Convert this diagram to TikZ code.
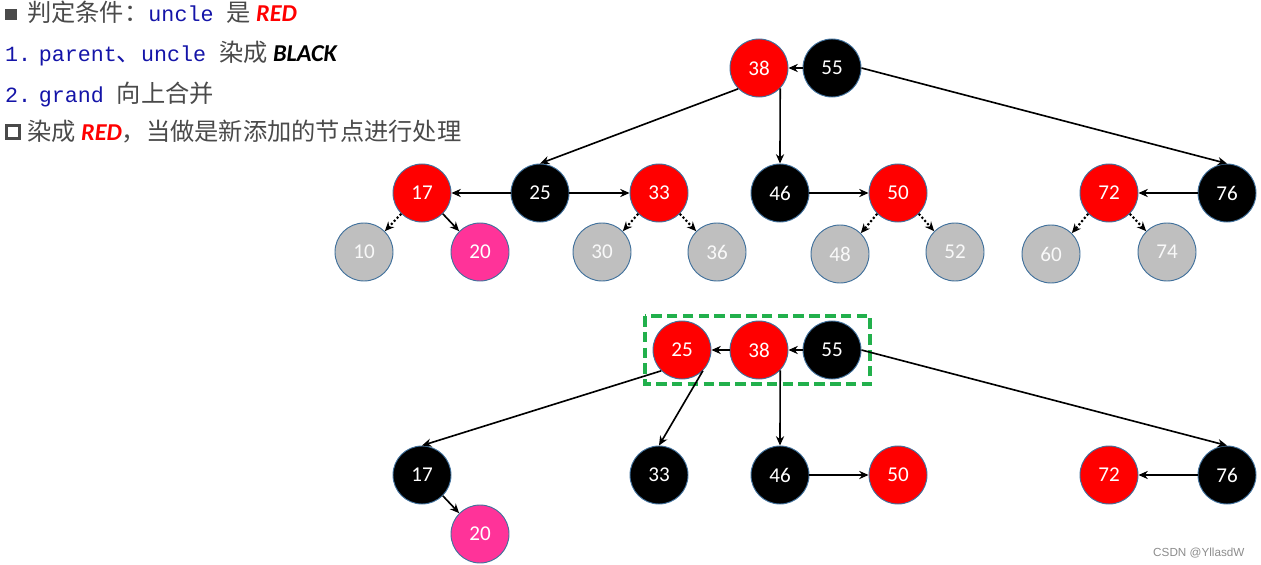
\documentclass[tikz,border=0pt]{standalone}
\usepackage{fontspec}
\setmainfont{Noto Sans CJK SC}
\newfontfamily\cjkf{Noto Sans CJK SC}
\newfontfamily\monof{Liberation Mono}
\newfontfamily\calf{Carlito}
\newfontfamily\sansf{Liberation Sans}
\usetikzlibrary{arrows.meta}
\definecolor{rbred}{HTML}{FF0000}
\definecolor{rbpink}{HTML}{FF3399}
\definecolor{rbgray}{HTML}{BFBFBF}
\definecolor{outl}{HTML}{41719C}
\definecolor{tgray}{HTML}{4A4A4A}
\definecolor{mblue}{HTML}{1414A8}
\definecolor{boxgreen}{HTML}{22B04C}
\definecolor{wmgray}{HTML}{8C8C8C}
\begin{document}
\begin{tikzpicture}[x=0.03cm,y=-0.03cm,
  rb/.style={circle,minimum size=1.74cm,inner sep=0pt,draw=outl,line width=0.8pt,
     font=\calf\fontsize{18}{18}\selectfont,text=white},
  rn/.style={rb,fill=rbred},
  bn/.style={rb,fill=black},
  gn/.style={rb,fill=rbgray,text=white!95!gray},
  pn/.style={rb,fill=rbpink},
  arr/.style={-{Stealth[length=8pt,width=7pt]},line width=1.4pt},
  dotarr/.style={arr,line width=1.8pt,dash pattern=on 1.8pt off 1.8pt},
  txt/.style={anchor=base west,inner sep=0pt,font=\cjkf\fontsize{20.7}{20.7}\selectfont,text=tgray},
  mono/.style={}
]
\useasboundingbox (0,0) rectangle (1261,565);

% ---- left text ----
\fill[tgray] (5,9) rectangle (17,20);
\node[txt] (t1) at (27,22) {判定条件：{\monof\fontsize{18.5}{18.5}\selectfont\color{mblue}uncle }是 {\calf\bfseries\itshape\color{rbred}RED}};
\node[txt] (t2) at (5,62) {{\monof\fontsize{18.5}{18.5}\selectfont\color{mblue}1.\hspace{0.35em}parent}{\color{mblue}、}{\monof\fontsize{18.5}{18.5}\selectfont\color{mblue}uncle }染成 {\calf\bfseries\itshape\color{black}BLACK}};
\node[txt] (t3) at (5,103) {{\monof\fontsize{18.5}{18.5}\selectfont\color{mblue}2.\hspace{0.35em}grand }向上合并};
\draw[tgray,line width=2.4pt] (6.5,125.5) rectangle (19.5,138.5);
\node[txt] (t4) at (27,141) {染成 {\calf\bfseries\itshape\color{rbred}RED}，当做是新添加的节点进行处理};

% ---- top tree ----
\node[rn] (a38) at (759,68) {38};
\node[bn] (a55) at (832,68) {55};
\node[rn] (a17) at (422,193) {17};
\node[bn] (a25) at (540,193) {25};
\node[rn] (a33) at (659,193) {33};
\node[bn] (a46) at (780,193) {46};
\node[rn] (a50) at (898,193) {50};
\node[rn] (a72) at (1109,193) {72};
\node[bn] (a76) at (1227,193) {76};
\node[gn] (a10) at (364,252) {10};
\node[pn] (a20) at (480,252) {20};
\node[gn] (a30) at (602,252) {30};
\node[gn] (a36) at (717,252) {36};
\node[gn] (a48) at (840,254) {48};
\node[gn] (a52) at (955,252) {52};
\node[gn] (a60) at (1051,254) {60};
\node[gn] (a74) at (1167,252) {74};

\draw[arr] (a55) -- (a38);
\draw[arr] (a38.south west) -- (a25.north);
\draw[arr] (a38.-44) -- (a46.north);
\draw[arr] (a55.east) -- (a76.north);
\draw[arr] (a25) -- (a17);
\draw[arr] (a25) -- (a33);
\draw[arr] (a46) -- (a50);
\draw[arr] (a76) -- (a72);
\draw[arr] (a17.south east) -- (a20.north west);
\draw[dotarr] (a17.south west) -- (a10.north east);
\draw[dotarr] (a33.south west) -- (a30.north east);
\draw[dotarr] (a33.south east) -- (a36.north west);
\draw[dotarr] (a50.south west) -- (a48.north east);
\draw[dotarr] (a50.south east) -- (a52.north west);
\draw[dotarr] (a72.south west) -- (a60.north east);
\draw[dotarr] (a72.south east) -- (a74.north west);

% ---- bottom tree ----
\node[rn] (b25) at (682,350) {25};
\node[rn] (b38) at (759,350) {38};
\node[bn] (b55) at (832,350) {55};
\node[bn] (b17) at (422,475) {17};
\node[bn] (b33) at (659,475) {33};
\node[bn] (b46) at (780,475) {46};
\node[rn] (b50) at (898,475) {50};
\node[rn] (b72) at (1109,475) {72};
\node[bn] (b76) at (1227,475) {76};
\node[pn] (b20) at (480,534) {20};

\draw[boxgreen,line width=2.6pt,dash pattern=on 9pt off 4.5pt] (645,316) rectangle (870,384);

\draw[arr] (b55) -- (b38);
\draw[arr] (b38) -- (b25);
\draw[arr] (b25.south west) -- (b17.north);
\draw[arr] (b25.south east) -- (b33.north);
\draw[arr] (b38.-44) -- (b46.north);
\draw[arr] (b55.east) -- (b76.north);
\draw[arr] (b46) -- (b50);
\draw[arr] (b76) -- (b72);
\draw[arr] (b17.south east) -- (b20.north west);

\node[anchor=base west,inner sep=0pt,font=\sansf\fontsize{10}{10}\selectfont,text=wmgray] (wm) at (1153,556) {CSDN @YllasdW};
\end{tikzpicture}
\end{document}
